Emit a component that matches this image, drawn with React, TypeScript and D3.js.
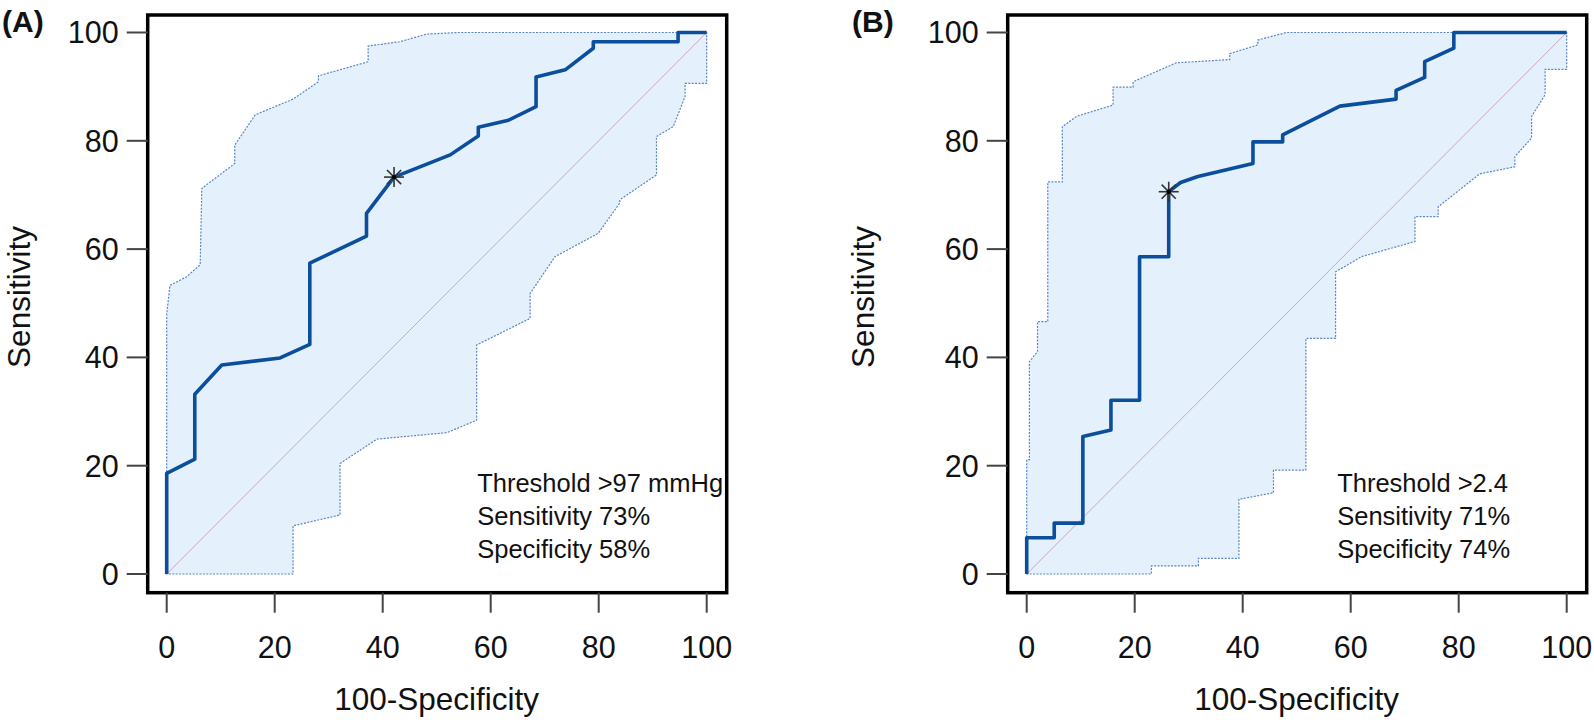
import React from "react"
import * as d3 from "d3"

type Pt = [number, number]

// Panel A: systolic pressure
const rocA: Pt[] = [
  [0, 0], [0, 18.6], [5.2, 21.2], [5.2, 33.2], [10.2, 38.6], [21.0, 39.9], [26.5, 42.4],
  [26.5, 57.4], [37.0, 62.4], [37.0, 66.6], [42.1, 73.3], [52.5, 77.4], [57.7, 80.9],
  [57.7, 82.5], [63.3, 83.8], [68.4, 86.3], [68.4, 91.8], [73.8, 93.1], [79.0, 97.1],
  [79.0, 98.3], [94.7, 98.3], [94.7, 100], [100, 100],
]
const upperA: Pt[] = [
  [0, 0], [0, 48], [0.6, 53.3], [3.7, 54.9], [6.2, 57.1], [6.5, 71.2], [12.6, 75.8],
  [12.6, 79.2], [16.4, 84.8], [23.4, 87.7], [28.1, 90.9], [28.1, 92.0], [37.3, 94.6],
  [37.3, 97.5], [43.2, 98.3], [48.1, 99.7], [54, 100], [100, 100],
]
const lowerA: Pt[] = [
  [0, 0], [23.4, 0], [23.4, 8.9], [32.1, 10.9], [32.1, 20.4], [38.9, 24.9], [51.9, 26.1],
  [57.4, 28.4], [57.4, 42.3], [67.3, 47.2], [67.3, 51.8], [71.9, 58.6], [79.9, 62.9],
  [83.9, 68.5], [83.9, 69.1], [90.7, 73.7], [90.7, 80.8], [93.8, 82.6], [96.0, 88.2],
  [96.0, 90.6], [100, 90.6], [100, 100],
]
const cutA: Pt = [42.1, 73.3]
const notesA = ["Threshold >97 mmHg", "Sensitivity 73%", "Specificity 58%"]

// Panel B
const rocB: Pt[] = [
  [0, 0], [0, 6.7], [5.1, 6.7], [5.1, 9.4], [10.4, 9.4], [10.4, 25.4], [15.6, 26.6],
  [15.6, 32.1], [20.9, 32.1], [20.9, 58.6], [26.3, 58.6], [26.3, 70.6], [28.5, 72.3],
  [31.7, 73.4], [41.9, 75.8], [41.9, 79.8], [47.4, 79.8], [47.4, 81.1], [58.0, 86.4],
  [68.4, 87.7], [68.4, 89.3], [73.7, 91.7], [73.7, 94.6], [79.1, 97.1], [79.1, 100], [100, 100],
]
const upperB: Pt[] = [
  [0, 0], [0, 21.1], [0.5, 21.1], [0.5, 39.2], [2.0, 41.1], [2.0, 46.6], [3.9, 46.6],
  [3.9, 72.4], [6.6, 72.4], [6.6, 82.6], [9.2, 84.5], [16.0, 86.6], [16.0, 89.9],
  [19.7, 89.9], [19.7, 90.9], [27.7, 94.4], [37.6, 95.0], [37.6, 96.1], [42.8, 97.7],
  [42.8, 98.6], [48.1, 100], [100, 100],
]
const lowerB: Pt[] = [
  [0, 0], [23.1, 0], [23.1, 1.5], [31.8, 1.5], [31.8, 2.9], [39.3, 2.9], [39.3, 13.8],
  [45.7, 15.0], [45.7, 19.2], [51.7, 19.2], [51.7, 43.5], [57.2, 43.5], [57.2, 55.8],
  [62.0, 58.6], [71.9, 61.4], [71.9, 66.0], [76.2, 66.0], [76.2, 67.8], [83.9, 73.9],
  [90.4, 75.2], [90.4, 77.1], [93.5, 80.5], [93.5, 84.5], [96.0, 88.5], [96.0, 93.2],
  [100, 93.2], [100, 100],
]
const cutB: Pt = [26.3, 70.6]
const notesB = ["Threshold >2.4", "Sensitivity 71%", "Specificity 74%"]

const ticks = [0, 20, 40, 60, 80, 100]

const FONT = "'Liberation Sans', Arial, Helvetica, sans-serif"

interface PanelProps {
  dx: number
  tag: string
  tagX: number
  yTitleX: number
  roc: Pt[]
  upper: Pt[]
  lower: Pt[]
  cut: Pt
  notes: string[]
}

function Panel({ dx, tag, tagX, yTitleX, roc, upper, lower, cut, notes }: PanelProps) {
  const x = d3.scaleLinear().domain([0, 100]).range([166.7 + dx, 706.7 + dx])
  const y = d3.scaleLinear().domain([0, 100]).range([574, 32.5])
  const line = d3.line<Pt>().x((d) => x(d[0])).y((d) => y(d[1]))
  const band = [...upper, ...lower.slice().reverse()]

  const box = { l: 147.7 + dx, r: 726.7 + dx, t: 15, b: 592.7 }
  const sx = x(cut[0])
  const sy = y(cut[1])
  const r = 10

  return (
    <g fontFamily={FONT}>
      <path d={line(band) + "Z"} fill="#e4f0fc" stroke="#5a86c2" strokeWidth={1.2} strokeDasharray="2,1.4" />
      <line x1={x(0)} y1={y(0)} x2={x(100)} y2={y(100)} stroke="#cfa6ba" strokeWidth={1} />
      <path d={line(roc)!} fill="none" stroke="#0b4f9c" strokeWidth={3.6} strokeLinejoin="round" />
      <g stroke="#333" strokeWidth={1.6}>
        {[0, 45, 90, 135].map((a) => {
          const rad = (a * Math.PI) / 180
          return (
            <line key={a} x1={sx - r * Math.cos(rad)} y1={sy - r * Math.sin(rad)}
              x2={sx + r * Math.cos(rad)} y2={sy + r * Math.sin(rad)} />
          )
        })}
      </g>
      <circle cx={sx} cy={sy} r={2.2} fill="#000" />

      <rect x={box.l} y={box.t} width={box.r - box.l} height={box.b - box.t}
        fill="none" stroke="#000" strokeWidth={3.5} />

      {ticks.map((t) => (
        <g key={"y" + t}>
          <line x1={box.l - 21} x2={box.l} y1={y(t)} y2={y(t)} stroke="#444" strokeWidth={2} />
          <text x={box.l - 29} y={y(t)} dy="0.36em" textAnchor="end" fontSize={30.5} fill="#111">{t}</text>
        </g>
      ))}
      {ticks.map((t) => (
        <g key={"x" + t}>
          <line x1={x(t)} x2={x(t)} y1={box.b} y2={box.b + 20} stroke="#444" strokeWidth={2} />
          <text x={x(t)} y={658} textAnchor="middle" fontSize={30.5} fill="#111">{t}</text>
        </g>
      ))}

      <text x={x(50)} y={710} textAnchor="middle" fontSize={31.5} fill="#111">100-Specificity</text>
      <text transform={`translate(${yTitleX},297) rotate(-90)`} textAnchor="middle" fontSize={31.5} fill="#111">
        Sensitivity
      </text>
      <text x={tagX} y={32} fontSize={30} fontWeight="bold" fill="#111">{tag}</text>

      {notes.map((n, i) => (
        <text key={n} x={x(57.5)} y={492 + i * 32.8} fontSize={25.5} fill="#111">{n}</text>
      ))}
    </g>
  )
}

export default function App() {
  return (
    <svg width={1594} height={720} style={{ position: "absolute", left: 0, top: 0, background: "#fff" }}>
      <Panel dx={0} tag="(A)" tagX={2} yTitleX={30} roc={rocA} upper={upperA} lower={lowerA} cut={cutA} notes={notesA} />
      <Panel dx={860} tag="(B)" tagX={852} yTitleX={874} roc={rocB} upper={upperB} lower={lowerB} cut={cutB} notes={notesB} />
    </svg>
  )
}
